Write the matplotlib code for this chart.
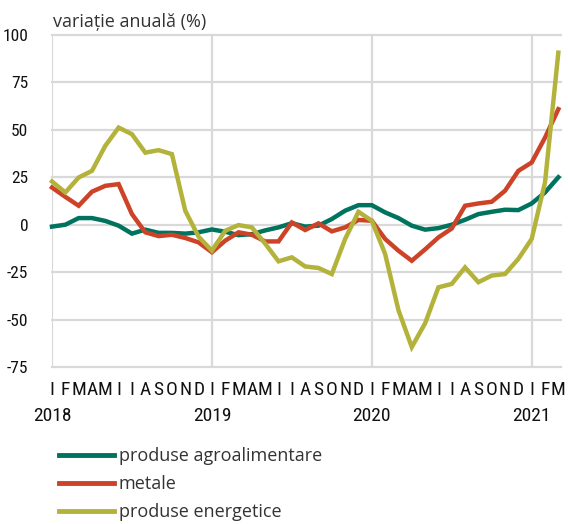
import matplotlib
matplotlib.use("Agg")
import matplotlib.pyplot as plt
from matplotlib import font_manager
from matplotlib.lines import Line2D

# ---- data ----
months_letters = ["I", "F", "M", "A", "M", "I", "I", "A", "S", "O", "N", "D"]
years = ["2018", "2019", "2020", "2021"]
n_months = 39  # Jan 2018 .. Mar 2021

agro = [-1, 0, 3.5, 3.5, 2, -0.5, -4.7, -2.6, -4.3, -4.3, -4.7, -4,
        -2.5, -3.7, -5.5, -5, -3, -1.4, 0.8, -1, -0.5, 3, 7.4, 10.3,
        10.3, 6.5, 3.5, -0.5, -2.6, -1.8, 0, 2.6, 5.6, 6.8, 7.9, 7.7,
        11.2, 17, 25]
metale = [19.6, 14.7, 10, 17.4, 20.5, 21.4, 5.6, -4, -6, -5.3, -7, -9.3,
          -14.5, -8.4, -4, -5.3, -8.8, -8.8, 1.2, -2.8, 0.7, -3.5, -1.4, 2.5,
          2.1, -7.5, -13.7, -19, -13, -6.7, -2, 10, 11.2, 12.1, 17.9, 28.4,
          32.8, 45.9, 60.9]
energetice = [22.8, 17, 24.9, 28.4, 41.6, 51.2, 47.7, 38, 39.3, 37.2, 7.4, -6.3,
              -13.7, -3.2, -0.2, -1.4, -10, -19.3, -17.2, -22, -22.8, -26, -7.5, 6.8,
              2.1, -15.4, -45, -64.5, -52, -33, -31.2, -22.5, -30.3, -26.8, -26, -18,
              -7.5, 22.3, 90.7]
series_labels = ["produse agroalimentare", "metale", "produse energetice"]
yticks = [-75, -50, -25, 0, 25, 50, 75, 100]
ylabel_text = "variație anuală (%)"

# ---- fonts ----
available = {f.name for f in font_manager.fontManager.ttflist}
def pick(*names):
    for n in names:
        if n in available:
            return n
    return "DejaVu Sans"
cond_font = pick("Liberation Sans Narrow", "Roboto Condensed", "DejaVu Sans")
light_font = pick("Open Sans", "Noto Sans", "DejaVu Sans")

colors = ["#00735f", "#cc4328", "#b3b23a"]
grid_c = "#d9d9d9"
txt_c = "#111111"

W, H = 568, 524
fig = plt.figure(figsize=(W / 100, H / 100), dpi=100)
ax_l, ax_r = 52 / W, 561 / W
ax_top, ax_bot = 1 - 35 / H, 1 - 367 / H
ax = fig.add_axes([ax_l, ax_bot, ax_r - ax_l, ax_top - ax_bot])

x = list(range(n_months))
ax.set_xlim(0, 38.2)
ax.set_ylim(-75, 100)

for s in ax.spines.values():
    s.set_visible(False)

for yv in yticks:
    ax.axhline(yv, color=grid_c, lw=1.6, zorder=0, clip_on=False)
for k in range(len(years)):
    ax.axvline(12 * k, color=grid_c, lw=1.6, zorder=0)

for vals, c in zip([agro, metale, energetice], colors):
    ax.plot(x, vals, color=c, lw=3.2, solid_joinstyle="miter", zorder=3, clip_on=False)

ax.set_yticks(yticks)
ax.set_yticklabels([str(v) for v in yticks], fontfamily=cond_font, fontsize=12.5,
                   color=txt_c)
ax.tick_params(axis="y", length=0, pad=17)
ax.set_xticks([])

# month letters and years
trans = ax.get_xaxis_transform()
for i in range(n_months):
    ax.text(i, -0.0693, months_letters[i % 12], transform=trans, ha="center", va="center",
            fontfamily=cond_font, fontsize=14, color=txt_c)
for k, yr in enumerate(years):
    ax.text(12 * k, -0.1476, yr, transform=trans, ha="center", va="center",
            fontfamily=cond_font, fontsize=14, color=txt_c)

fig.text(53 / W, 1 - 22 / H, ylabel_text, ha="left", va="center",
         fontfamily=light_font, fontsize=13, color="#333333")

# legend (drawn manually for exact placement)
rows_y = [455, 483, 511]
for c, lab, yy in zip(colors, series_labels, rows_y):
    fig.add_artist(Line2D([59 / W, 114 / W], [1 - yy / H, 1 - yy / H], color=c, lw=3.5,
                          transform=fig.transFigure))
    fig.text(119 / W, 1 - (yy + 1) / H, lab, ha="left", va="center",
             fontfamily=light_font, fontsize=13, color="#333333")

fig.savefig("out.png", dpi=100)
